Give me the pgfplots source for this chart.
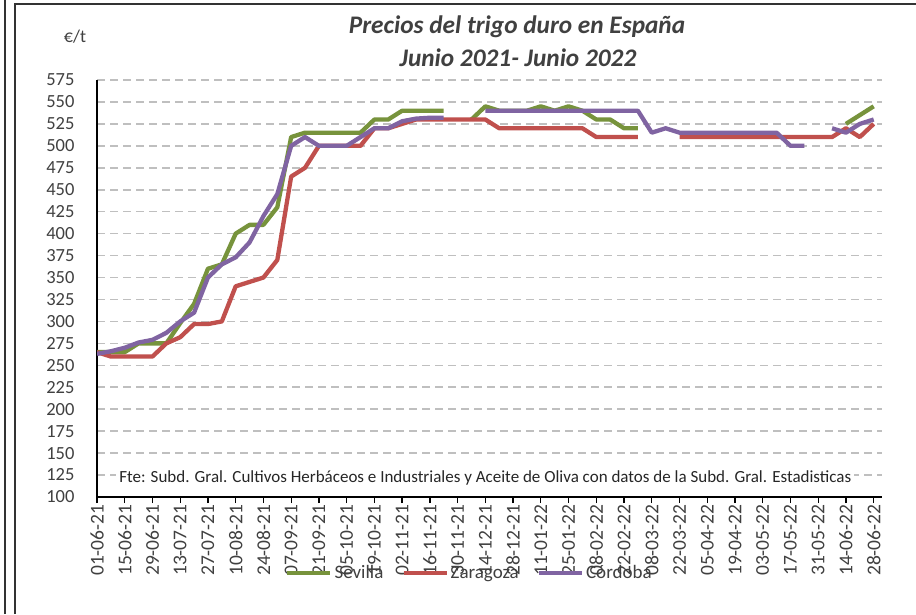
\documentclass[border=0pt]{standalone}
\usepackage{fontspec}
\setmainfont{Carlito}
\usepackage{pgfplots}
\pgfplotsset{compat=1.18}
\usepackage{pgfplotstable}

\definecolor{sev}{HTML}{77933C}
\definecolor{zar}{HTML}{C0504D}
\definecolor{cor}{HTML}{8064A2}
\definecolor{txt}{HTML}{404040}
\definecolor{grd}{HTML}{BFBFBF}

% weekly prices, EUR/t (nan = no quotation)
\pgfplotstableread{
i  S    Z    C
0  265  265  263
1  265  260  266
2  265  260  270
3  275  260  276
4  275  260  279
5  275  275  287
6  298  282  300
7  320  297  310
8  360  297  350
9  365  300  365
10 400  340  373
11 410  345  390
12 410  350  420
13 430  370  445
14 510  465  500
15 515  475  510
16 515  500  500
17 515  500  500
18 515  500  500
19 515  500  510
20 530  520  520
21 530  520  520
22 540  525  528
23 540  530  531
24 540  530  532
25 540  530  532
26 nan  530  nan
27 530  530  nan
28 545  530  540
29 540  520  540
30 540  520  540
31 540  520  540
32 545  520  540
33 540  520  540
34 545  520  540
35 540  520  540
36 530  510  540
37 530  510  540
38 520  510  540
39 520  510  540
40 nan  nan  515
41 nan  nan  520
42 nan  510  515
43 nan  510  515
44 nan  510  515
45 nan  510  515
46 nan  510  515
47 nan  510  515
48 nan  510  515
49 nan  510  515
50 nan  510  500
51 nan  510  500
52 nan  510  nan
53 nan  510  520
54 525  520  515
55 535  510  525
56 545  525  530
}\prices

\begin{document}
\begin{tikzpicture}[x=1pt,y=1pt]
\useasboundingbox (0,0) rectangle (916,614);
\fill[white] (0,0) rectangle (916,614);
\draw[line width=1.5pt, black!80] (5,0) -- (5,614);
\draw[line width=1.5pt, black!80] (15,0) -- (15,610) -- (916,610);

\node[font=\fontsize{25.3}{28}\selectfont\bfseries\itshape, text=txt] at (517,587) {Precios del trigo duro en España};
\node[font=\fontsize{25.3}{28}\selectfont\bfseries\itshape, text=txt] at (518,556) {Junio 2021- Junio 2022};
\node[font=\fontsize{18}{20}\selectfont, text=txt] at (75,577) {€/t};

\begin{axis}[
    at={(97pt,117pt)}, anchor=south west,
    width=785pt, height=417pt, scale only axis,
    xmin=0, xmax=56.6, ymin=100, ymax=575,
    axis x line*=bottom, axis y line*=left,
    axis line style={black, line width=1.3pt},
    xtick={0,2,...,56},
    xticklabels={01-06-21,15-06-21,29-06-21,13-07-21,27-07-21,10-08-21,24-08-21,
      07-09-21,21-09-21,05-10-21,19-10-21,02-11-21,16-11-21,30-11-21,14-12-21,
      28-12-21,11-01-22,25-01-22,08-02-22,22-02-22,08-03-22,22-03-22,05-04-22,
      19-04-22,03-05-22,17-05-22,31-05-22,14-06-22,28-06-22},
    xticklabel style={rotate=90, anchor=east, font=\fontsize{19.5}{20}\selectfont, text=txt, xshift=2pt},
    x tick style={black, line width=1.3pt},
    major tick length=6pt, tick align=outside,
    ytick={100,125,...,575},
    y tick style={draw=none},
    yticklabel style={font=\fontsize{18.5}{20}\selectfont, text=txt, xshift=-13pt},
    /pgf/number format/assume math mode=true,
    ymajorgrids,
    grid style={grd, line width=1.6pt, dash pattern=on 8pt off 5pt},
    unbounded coords=jump,
    every axis plot/.append style={line width=4.3pt, line join=round},
    legend columns=3,
    legend style={at={(0.4745,-0.182)}, anchor=center, draw=none, fill=none,
      font=\fontsize{19}{20}\selectfont, text=txt,
      /tikz/every even column/.append style={column sep=16pt}},
    legend image code/.code={\draw[#1] (0pt,0pt) -- (43pt,0pt);},
]
\addplot[sev] table[x=i, y=S] {\prices};
\addlegendentry{Sevilla}
\addplot[zar] table[x=i, y=Z] {\prices};
\addlegendentry{Zaragoza}
\addplot[cor] table[x=i, y=C] {\prices};
\addlegendentry{Córdoba}

\node[fill=white, inner sep=3pt, font=\fontsize{17}{19}\selectfont, text=black!85]
  at (axis cs:28,121.6) {Fte: Subd. Gral. Cultivos Herbáceos e Industriales y Aceite de Oliva con datos de la Subd. Gral. Estadisticas};
\end{axis}
\end{tikzpicture}
\end{document}
